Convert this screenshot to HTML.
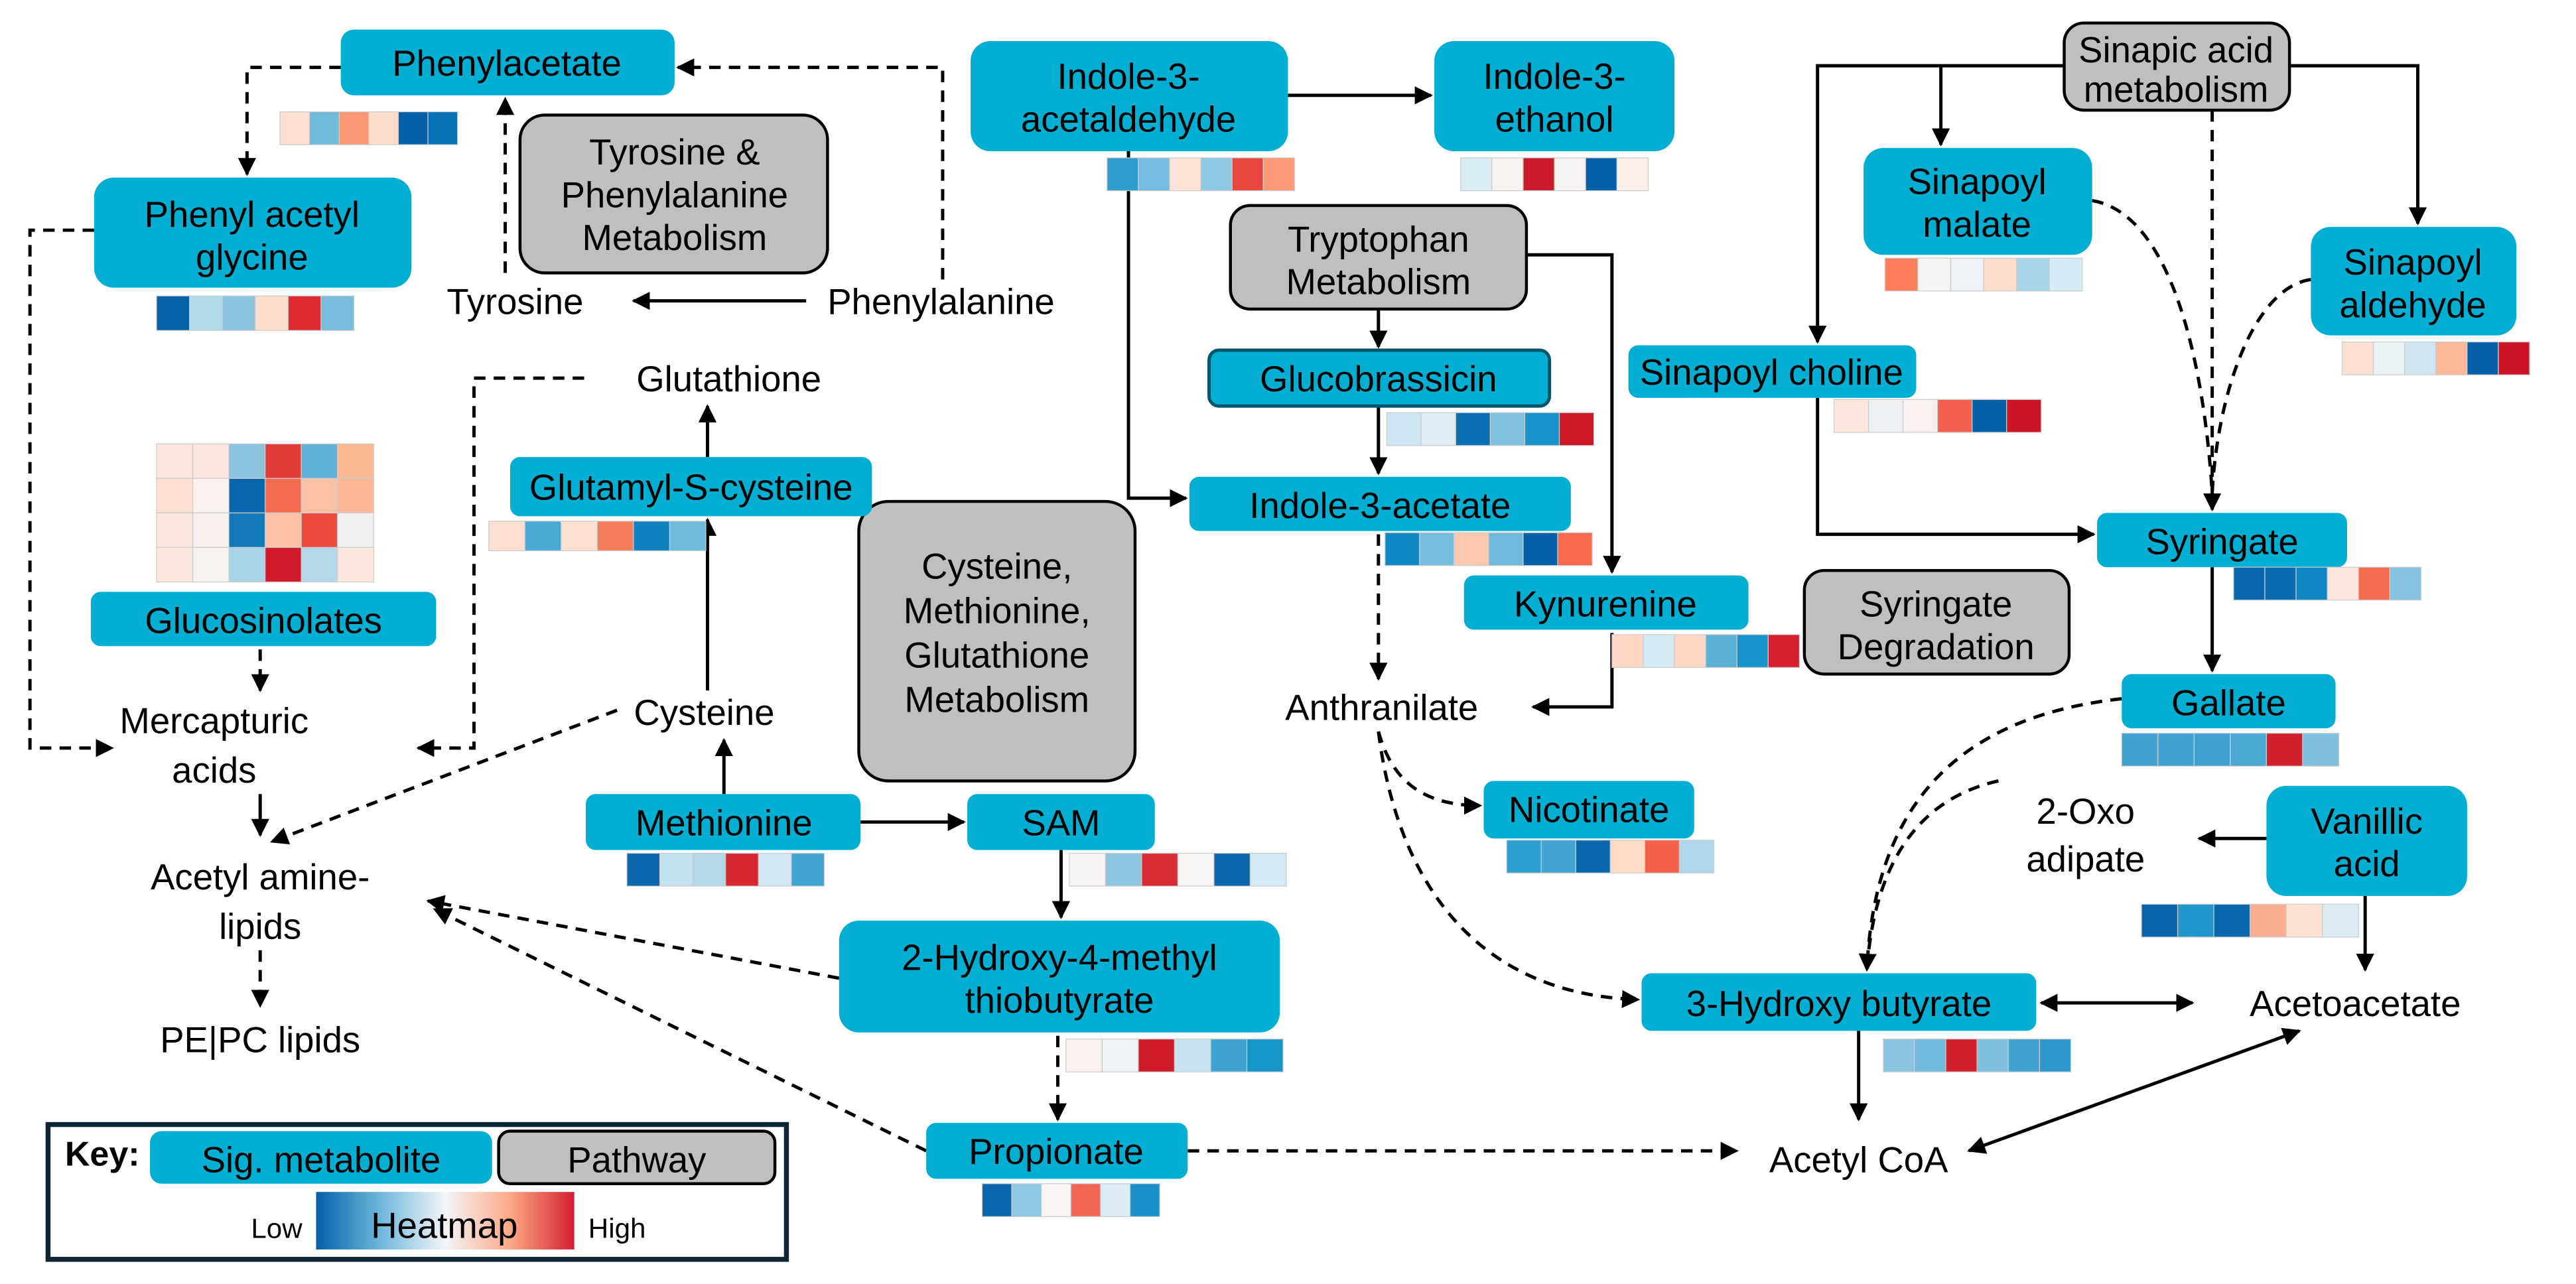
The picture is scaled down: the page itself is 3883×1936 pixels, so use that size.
<!DOCTYPE html>
<html><head><meta charset="utf-8"><style>
html,body{margin:0;padding:0;background:#fff;}
svg{display:block;}
text{font-family:"Liberation Sans",sans-serif;font-size:22px;fill:#000;text-anchor:middle;}
.b{fill:#02aed2;}
.g{fill:#bfbfbf;stroke:#000;stroke-width:1.8;}
.s{stroke:#000;stroke-width:2;fill:none;}
.d{stroke:#000;stroke-width:2;fill:none;stroke-dasharray:7,5;}
</style></head><body>
<svg width="3883" height="1936" viewBox="0 0 1566 781" xmlns="http://www.w3.org/2000/svg">
<defs>
<marker id="a" viewBox="0 0 10 10" refX="9" refY="5" markerWidth="11" markerHeight="11" markerUnits="userSpaceOnUse" orient="auto-start-reverse"><path d="M0,0L10,5L0,10z" fill="#000"/></marker>
<linearGradient id="hm" x1="0" x2="1"><stop offset="0" stop-color="#0560a8"/><stop offset="0.25" stop-color="#6fb7dc"/><stop offset="0.5" stop-color="#f3f5f7"/><stop offset="0.75" stop-color="#fca988"/><stop offset="1" stop-color="#d2202e"/></linearGradient>
</defs>

<!-- connectors -->
<path class="d" d="M573,170V41H412" marker-end="url(#a)"/>
<path class="d" d="M307,166V60" marker-end="url(#a)"/>
<path class="s" d="M490,183H385" marker-end="url(#a)"/>
<path class="d" d="M207,41H150V106" marker-end="url(#a)"/>
<path class="d" d="M57,140H18V455H68" marker-end="url(#a)"/>
<path class="d" d="M355,230H288V455H254" marker-end="url(#a)"/>
<path class="s" d="M430,278V247" marker-end="url(#a)"/>
<path class="s" d="M430,420V316" marker-end="url(#a)"/>
<path class="s" d="M440,483V450" marker-end="url(#a)"/>
<path class="d" d="M158,395V420" marker-end="url(#a)"/>
<path class="s" d="M158,483V508" marker-end="url(#a)"/>
<path class="d" d="M375,432L165,512" marker-end="url(#a)"/>
<path class="d" d="M158,578V612" marker-end="url(#a)"/>
<path class="d" d="M510,595L260,548" marker-end="url(#a)"/>
<path class="d" d="M563,700L264,553" marker-end="url(#a)"/>
<path class="s" d="M523,500H586" marker-end="url(#a)"/>
<path class="s" d="M645,517V558" marker-end="url(#a)"/>
<path class="d" d="M643,630V681" marker-end="url(#a)"/>
<path class="d" d="M722,700H1056" marker-end="url(#a)"/>
<path class="s" d="M783,58H870" marker-end="url(#a)"/>
<path class="s" d="M686,92V303H721" marker-end="url(#a)"/>
<path class="s" d="M838,188V211" marker-end="url(#a)"/>
<path class="s" d="M838,247V288" marker-end="url(#a)"/>
<path class="s" d="M928,155H980V348" marker-end="url(#a)"/>
<path class="d" d="M838,325V413" marker-end="url(#a)"/>
<path class="s" d="M980,385V430H932" marker-end="url(#a)"/>
<path class="d" d="M838,445C845,470 860,490 900,490" marker-end="url(#a)"/>
<path class="d" d="M838,445C850,540 900,605 996,608" marker-end="url(#a)"/>
<path class="s" d="M1255,40H1105V208" marker-end="url(#a)"/>
<path class="s" d="M1180,40V88" marker-end="url(#a)"/>
<path class="s" d="M1392,40H1470V136" marker-end="url(#a)"/>
<path class="d" d="M1345,67V310" marker-end="url(#a)"/>
<path class="d" d="M1272,122C1320,130 1340,220 1345,300"/>
<path class="d" d="M1405,170C1370,175 1348,240 1345,300"/>
<path class="s" d="M1105,242V325H1273" marker-end="url(#a)"/>
<path class="s" d="M1345,345V408" marker-end="url(#a)"/>
<path class="d" d="M1290,425C1200,435 1140,480 1135,590" marker-end="url(#a)"/>
<path class="d" d="M1215,475C1170,485 1140,520 1135,590"/>
<path class="s" d="M1378,510H1337" marker-end="url(#a)"/>
<path class="s" d="M1438,545V590" marker-end="url(#a)"/>
<path class="s" d="M1241,610H1333" marker-start="url(#a)" marker-end="url(#a)"/>
<path class="s" d="M1130,627V681" marker-end="url(#a)"/>
<path class="s" d="M1197,700L1398,627" marker-start="url(#a)" marker-end="url(#a)"/>

<!-- gray pathway boxes -->
<rect class="g" x="316" y="70" width="187" height="96" rx="15"/>
<text x="410" y="100">Tyrosine &amp;</text><text x="410" y="126">Phenylalanine</text><text x="410" y="152">Metabolism</text>
<rect class="g" x="1255" y="14" width="137" height="53" rx="12"/>
<text x="1323" y="38">Sinapic acid</text><text x="1323" y="62">metabolism</text>
<rect class="g" x="748" y="125" width="180" height="63" rx="12"/>
<text x="838" y="153">Tryptophan</text><text x="838" y="179">Metabolism</text>
<rect class="g" x="522" y="305" width="168" height="170" rx="18"/>
<text x="606" y="352">Cysteine,</text><text x="606" y="379">Methionine,</text><text x="606" y="406">Glutathione</text><text x="606" y="433">Metabolism</text>
<rect class="g" x="1097" y="347" width="161" height="63" rx="12"/>
<text x="1177" y="375">Syringate</text><text x="1177" y="401">Degradation</text>

<!-- blue boxes -->
<rect class="b" x="207" y="18" width="203" height="40" rx="8"/><text x="308" y="46">Phenylacetate</text>
<rect class="b" x="57" y="108" width="193" height="67" rx="12"/><text x="153" y="138">Phenyl acetyl</text><text x="153" y="164">glycine</text>
<rect class="b" x="590" y="25" width="193" height="67" rx="12"/><text x="686" y="54">Indole-3-</text><text x="686" y="80">acetaldehyde</text>
<rect class="b" x="872" y="25" width="146" height="67" rx="12"/><text x="945" y="54">Indole-3-</text><text x="945" y="80">ethanol</text>
<rect class="b" x="1133" y="90" width="139" height="65" rx="12"/><text x="1202" y="118">Sinapoyl</text><text x="1202" y="144">malate</text>
<rect class="b" x="1405" y="138" width="125" height="66" rx="12"/><text x="1467" y="167">Sinapoyl</text><text x="1467" y="193">aldehyde</text>
<rect class="b" x="990" y="210" width="175" height="32" rx="6"/><text x="1077" y="234">Sinapoyl choline</text>
<rect class="b" x="735" y="213" width="207" height="34" rx="6" stroke="#06566b" stroke-width="2"/><text x="838" y="238">Glucobrassicin</text>
<rect class="b" x="310" y="278" width="220" height="36" rx="6"/><text x="420" y="304">Glutamyl-S-cysteine</text>
<rect class="b" x="723" y="290" width="232" height="33" rx="6"/><text x="839" y="315">Indole-3-acetate</text>
<rect class="b" x="1275" y="312" width="152" height="33" rx="6"/><text x="1351" y="337">Syringate</text>
<rect class="b" x="890" y="350" width="173" height="33" rx="6"/><text x="976" y="375">Kynurenine</text>
<rect class="b" x="55" y="360" width="210" height="33" rx="6"/><text x="160" y="385">Glucosinolates</text>
<rect class="b" x="1290" y="410" width="130" height="33" rx="6"/><text x="1355" y="435">Gallate</text>
<rect class="b" x="902" y="475" width="128" height="35" rx="6"/><text x="966" y="500">Nicotinate</text>
<rect class="b" x="356" y="483" width="167" height="34" rx="6"/><text x="440" y="508">Methionine</text>
<rect class="b" x="588" y="483" width="114" height="34" rx="6"/><text x="645" y="508">SAM</text>
<rect class="b" x="1378" y="478" width="122" height="67" rx="12"/><text x="1439" y="507">Vanillic</text><text x="1439" y="533">acid</text>
<rect class="b" x="510" y="560" width="268" height="68" rx="12"/><text x="644" y="590">2-Hydroxy-4-methyl</text><text x="644" y="616">thiobutyrate</text>
<rect class="b" x="998" y="592" width="240" height="35" rx="6"/><text x="1118" y="618">3-Hydroxy butyrate</text>
<rect class="b" x="563" y="683" width="159" height="34" rx="6"/><text x="642" y="708">Propionate</text>

<!-- plain labels -->
<text x="313" y="191">Tyrosine</text>
<text x="572" y="191">Phenylalanine</text>
<text x="443" y="238">Glutathione</text>
<text x="428" y="441">Cysteine</text>
<text x="130" y="446">Mercapturic</text><text x="130" y="476">acids</text>
<text x="158" y="541">Acetyl amine-</text><text x="158" y="571">lipids</text>
<text x="158" y="640">PE|PC lipids</text>
<text x="840" y="438">Anthranilate</text>
<text x="1268" y="501">2-Oxo</text><text x="1268" y="530">adipate</text>
<text x="1432" y="618">Acetoacetate</text>
<text x="1130" y="713">Acetyl CoA</text>

<!-- heatmaps -->
<g stroke="#ccc" stroke-width="0.5">
<g transform="translate(170,68)"><rect width="18" height="20" fill="#fde0d2"/><rect x="18" width="18" height="20" fill="#6fbad9"/><rect x="36" width="18" height="20" fill="#fc9775"/><rect x="54" width="18" height="20" fill="#fdddca"/><rect x="72" width="18" height="20" fill="#0560a8"/><rect x="90" width="18" height="20" fill="#0772b5"/></g>
<g transform="translate(95,180)"><rect width="20" height="21" fill="#0561a8"/><rect x="20" width="20" height="21" fill="#b2dbea"/><rect x="40" width="20" height="21" fill="#8ac3de"/><rect x="60" width="20" height="21" fill="#fddcc9"/><rect x="80" width="20" height="21" fill="#dc2a30"/><rect x="100" width="20" height="21" fill="#78bcdc"/></g>
<g transform="translate(95,270)">
<rect width="22" height="21" fill="#fbe6dc"/><rect x="22" width="22" height="21" fill="#fde6dc"/><rect x="44" width="22" height="21" fill="#8cc4e0"/><rect x="66" width="22" height="21" fill="#e13c3a"/><rect x="88" width="22" height="21" fill="#60b2d8"/><rect x="110" width="22" height="21" fill="#fcb895"/>
<rect y="21" width="22" height="21" fill="#fde0d2"/><rect x="22" y="21" width="22" height="21" fill="#f8f1ee"/><rect x="44" y="21" width="22" height="21" fill="#0a66ac"/><rect x="66" y="21" width="22" height="21" fill="#f46d50"/><rect x="88" y="21" width="22" height="21" fill="#fbc1a7"/><rect x="110" y="21" width="22" height="21" fill="#fdb797"/>
<rect y="42" width="22" height="21" fill="#fde6dc"/><rect x="22" y="42" width="22" height="21" fill="#f7efec"/><rect x="44" y="42" width="22" height="21" fill="#1479b9"/><rect x="66" y="42" width="22" height="21" fill="#fbc1a7"/><rect x="88" y="42" width="22" height="21" fill="#ef4b3e"/><rect x="110" y="42" width="22" height="21" fill="#f0f0f0"/>
<rect y="63" width="22" height="21" fill="#fde6dc"/><rect x="22" y="63" width="22" height="21" fill="#f6f2f0"/><rect x="44" y="63" width="22" height="21" fill="#a9d4e8"/><rect x="66" y="63" width="22" height="21" fill="#d01a2b"/><rect x="88" y="63" width="22" height="21" fill="#b2d8ea"/><rect x="110" y="63" width="22" height="21" fill="#fde6dc"/>
</g>
<g transform="translate(297,317)"><rect width="22" height="18" fill="#fde0d2"/><rect x="22" width="22" height="18" fill="#4aaad4"/><rect x="44" width="22" height="18" fill="#fde0d2"/><rect x="66" width="22" height="18" fill="#f77e5c"/><rect x="88" width="22" height="18" fill="#0f82bf"/><rect x="110" width="22" height="18" fill="#6fbad9"/></g>
<g transform="translate(673,96)"><rect width="19" height="20" fill="#2e9ccc"/><rect x="19" width="19" height="20" fill="#74bde0"/><rect x="38" width="19" height="20" fill="#fde3d6"/><rect x="57" width="19" height="20" fill="#8fc8e4"/><rect x="76" width="19" height="20" fill="#e8473f"/><rect x="95" width="19" height="20" fill="#fc9a77"/></g>
<g transform="translate(888,96)"><rect width="19" height="20" fill="#d9ecf4"/><rect x="19" width="19" height="20" fill="#f6f3f1"/><rect x="38" width="19" height="20" fill="#cb1a2b"/><rect x="57" width="19" height="20" fill="#f6f4f2"/><rect x="76" width="19" height="20" fill="#0560a9"/><rect x="95" width="19" height="20" fill="#fbefea"/></g>
<g transform="translate(843,251)"><rect width="21" height="20" fill="#cde6f1"/><rect x="21" width="21" height="20" fill="#dfeef5"/><rect x="42" width="21" height="20" fill="#0a6eb2"/><rect x="63" width="21" height="20" fill="#7fc1df"/><rect x="84" width="21" height="20" fill="#1893c9"/><rect x="105" width="21" height="20" fill="#cd1827"/></g>
<g transform="translate(842,324)"><rect width="21" height="20" fill="#1088c3"/><rect x="21" width="21" height="20" fill="#76bedd"/><rect x="42" width="21" height="20" fill="#fdc9ae"/><rect x="63" width="21" height="20" fill="#6fbadb"/><rect x="84" width="21" height="20" fill="#0560a8"/><rect x="105" width="21" height="20" fill="#f8694e"/></g>
<g transform="translate(980,386)"><rect width="19" height="20" fill="#fdd7c4"/><rect x="19" width="19" height="20" fill="#d5eaf3"/><rect x="38" width="19" height="20" fill="#fdd7c4"/><rect x="57" width="19" height="20" fill="#5db1d7"/><rect x="76" width="19" height="20" fill="#1893c9"/><rect x="95" width="19" height="20" fill="#d62030"/></g>
<g transform="translate(1146,157)"><rect width="20" height="20" fill="#fb7f5c"/><rect x="20" width="20" height="20" fill="#f5f4f3"/><rect x="40" width="20" height="20" fill="#eef2f5"/><rect x="60" width="20" height="20" fill="#fddcc9"/><rect x="80" width="20" height="20" fill="#a8d4e8"/><rect x="100" width="20" height="20" fill="#d7ebf4"/></g>
<g transform="translate(1115,243)"><rect width="21" height="20" fill="#fde7dc"/><rect x="21" width="21" height="20" fill="#eef1f4"/><rect x="42" width="21" height="20" fill="#f8f1ee"/><rect x="63" width="21" height="20" fill="#f4604d"/><rect x="84" width="21" height="20" fill="#0560a8"/><rect x="105" width="21" height="20" fill="#cd1427"/></g>
<g transform="translate(1424,208)"><rect width="19" height="20" fill="#fde0d2"/><rect x="19" width="19" height="20" fill="#ebf2f6"/><rect x="38" width="19" height="20" fill="#cfe6f1"/><rect x="57" width="19" height="20" fill="#fcb898"/><rect x="76" width="19" height="20" fill="#0560a9"/><rect x="95" width="19" height="20" fill="#cd1427"/></g>
<g transform="translate(1358,345)"><rect width="19" height="20" fill="#0967ac"/><rect x="19" width="19" height="20" fill="#0a6db0"/><rect x="38" width="19" height="20" fill="#1087c2"/><rect x="57" width="19" height="20" fill="#fde6db"/><rect x="76" width="19" height="20" fill="#f56d50"/><rect x="95" width="19" height="20" fill="#86c2df"/></g>
<g transform="translate(1290,446)"><rect width="22" height="20" fill="#3fa3d1"/><rect x="22" width="22" height="20" fill="#3fa3d1"/><rect x="44" width="22" height="20" fill="#3fa3d1"/><rect x="66" width="22" height="20" fill="#4aa8d3"/><rect x="88" width="22" height="20" fill="#d21f2c"/><rect x="110" width="22" height="20" fill="#7ec0de"/></g>
<g transform="translate(916,511)"><rect width="21" height="20" fill="#2c9fd0"/><rect x="21" width="21" height="20" fill="#41a5d3"/><rect x="42" width="21" height="20" fill="#0868ae"/><rect x="63" width="21" height="20" fill="#fddbc7"/><rect x="84" width="21" height="20" fill="#f5604b"/><rect x="105" width="21" height="20" fill="#afd7ea"/></g>
<g transform="translate(381,519)"><rect width="20" height="20" fill="#0b66ac"/><rect x="20" width="20" height="20" fill="#c3e2ef"/><rect x="40" width="20" height="20" fill="#b2d8ea"/><rect x="60" width="20" height="20" fill="#d62630"/><rect x="80" width="20" height="20" fill="#d1e7f2"/><rect x="100" width="20" height="20" fill="#42a4d2"/></g>
<g transform="translate(650,519)"><rect width="22" height="20" fill="#f6f4f3"/><rect x="22" width="22" height="20" fill="#8ec6e1"/><rect x="44" width="22" height="20" fill="#d82b34"/><rect x="66" width="22" height="20" fill="#f7f5f4"/><rect x="88" width="22" height="20" fill="#0b66ac"/><rect x="110" width="22" height="20" fill="#d6eaf3"/></g>
<g transform="translate(648,632)"><rect width="22" height="20" fill="#f8f1ee"/><rect x="22" width="22" height="20" fill="#eef3f6"/><rect x="44" width="22" height="20" fill="#d01b2b"/><rect x="66" width="22" height="20" fill="#c8e3f0"/><rect x="88" width="22" height="20" fill="#3fa3d1"/><rect x="110" width="22" height="20" fill="#1895c9"/></g>
<g transform="translate(1302,550)"><rect width="22" height="20" fill="#0a64aa"/><rect x="22" width="22" height="20" fill="#2197cb"/><rect x="44" width="22" height="20" fill="#0968ad"/><rect x="66" width="22" height="20" fill="#fcae91"/><rect x="88" width="22" height="20" fill="#fde1d3"/><rect x="110" width="22" height="20" fill="#dcecf5"/></g>
<g transform="translate(1145,632)"><rect width="19" height="20" fill="#8cc4e0"/><rect x="19" width="19" height="20" fill="#6fbadb"/><rect x="38" width="19" height="20" fill="#d21f2c"/><rect x="57" width="19" height="20" fill="#7fc0de"/><rect x="76" width="19" height="20" fill="#3fa2d0"/><rect x="95" width="19" height="20" fill="#2c98cc"/></g>
<g transform="translate(597,720)"><rect width="18" height="20" fill="#0a66ac"/><rect x="18" width="18" height="20" fill="#8fc6e1"/><rect x="36" width="18" height="20" fill="#f8f5f4"/><rect x="54" width="18" height="20" fill="#f56553"/><rect x="72" width="18" height="20" fill="#dbecf4"/><rect x="90" width="18" height="20" fill="#1a8ec6"/></g>
</g>

<!-- key -->
<rect x="29" y="684" width="449" height="82" fill="#fff" stroke="#0d2535" stroke-width="3"/>
<text x="62" y="709" style="font-weight:bold;font-size:21px">Key:</text>
<rect class="b" x="91" y="688" width="208" height="32" rx="7"/><text x="195" y="713">Sig. metabolite</text>
<rect class="g" x="303" y="688" width="168" height="32" rx="7"/><text x="387" y="713">Pathway</text>
<rect x="192" y="725" width="157" height="35" fill="url(#hm)"/>
<text x="270" y="753" style="font-size:22px">Heatmap</text>
<text x="168" y="753" style="font-size:17px">Low</text>
<text x="375" y="753" style="font-size:17px">High</text>
</svg>
</body></html>
